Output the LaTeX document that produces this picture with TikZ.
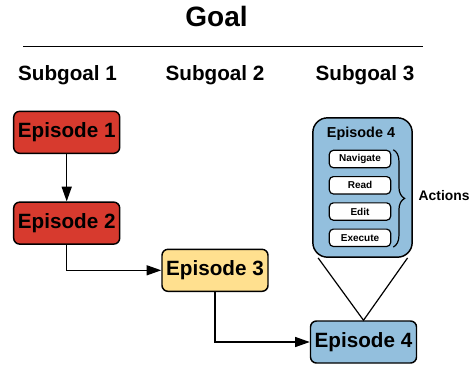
\documentclass[tikz,border=0pt]{standalone}
\usepackage{fontspec}
\setmainfont{Liberation Sans}
\usetikzlibrary{positioning,arrows.meta,decorations.pathreplacing}

\definecolor{epred}{HTML}{D73A2E}
\definecolor{epyellow}{HTML}{FFE08F}
\definecolor{epblue}{HTML}{93BFDD}

\tikzset{
    episode/.style={draw, line width=1.1pt, rounded corners=4.5pt, inner sep=0pt,
        minimum width=79.5pt, minimum height=31.5pt,
        font=\fontsize{15.5}{18}\selectfont\bfseries},
    actionbox/.style={draw, fill=white, line width=0.9pt, rounded corners=3pt, inner sep=0pt,
        minimum width=46pt, minimum height=13pt,
        font=\fontsize{7.5}{9}\selectfont\bfseries},
    heading/.style={font=\fontsize{15.5}{18}\selectfont\bfseries},
    link/.style={-{Triangle[length=11pt,width=7.5pt]}, line width=1pt},
}

\begin{document}
\begin{tikzpicture}[x=0.75pt,y=-0.75pt]
    \useasboundingbox (0,0) rectangle (473,369);

    \node (goal) [font=\fontsize{21}{24}\selectfont\bfseries] at (216.5,16) {Goal}; % top title
    \coordinate (ruleL) at (23,46.5); % rule under goal
    \coordinate (ruleR) at (423,46.5);
    \draw [line width=1pt] (ruleL) -- (ruleR);

    \node (sg1) [heading] at (67.5,75.5) {Subgoal 1};
    \node (sg2) [heading] at (215,75.5) {Subgoal 2};
    \node (sg3) [heading] at (365,75.5) {Subgoal 3};

    \node (ep1) [episode, fill=epred] at (66.7,132.3) {Episode 1}; % first episode
    \node (ep2) [episode, fill=epred, below=35.5pt of ep1] {Episode 2}; % second episode
    \node (ep3) [episode, fill=epyellow] at (215,270.3) {Episode 3}; % subgoal 2
    \node (ep4) [episode, fill=epblue] at (363.5,342) {Episode 4}; % subgoal 3

    % expanded view of episode 4
    \node (big) [draw, fill=epblue, line width=1.1pt, rounded corners=11pt,
        minimum width=74.5pt, minimum height=104.5pt] at (362.5,187.5) {};
    \node (bigtitle) [font=\fontsize{10.8}{13}\selectfont\bfseries] at (361,134) {Episode 4};
    \node (nav) [actionbox] at (360,159) {Navigate};
    \node (read) [actionbox, below=5.8pt of nav] {Read};
    \node (edit) [actionbox, below=5.8pt of read] {Edit};
    \node (exec) [actionbox, below=5.8pt of edit] {Execute};

    \draw [decorate, decoration={brace, amplitude=8.5pt}, line width=0.9pt]
        ([xshift=1.5pt]nav.north east) -- ([xshift=1.5pt]exec.south east)
        coordinate [midway] (bracemid);
    \node (actions) [anchor=west, font=\fontsize{10.4}{12}\selectfont\bfseries] at (414,196) {Actions};

    % zoom lines down to episode 4
    \draw [line width=0.9pt] ([xshift=4.5pt]big.south west) -- (ep4.north) -- ([xshift=-4pt]big.south east);

    \draw [link] (ep1) -- (ep2);
    \draw [link] (ep2.south) |- (ep3.west);
    \draw [link] (ep3.south) |- (ep4.west);
\end{tikzpicture}
\end{document}
